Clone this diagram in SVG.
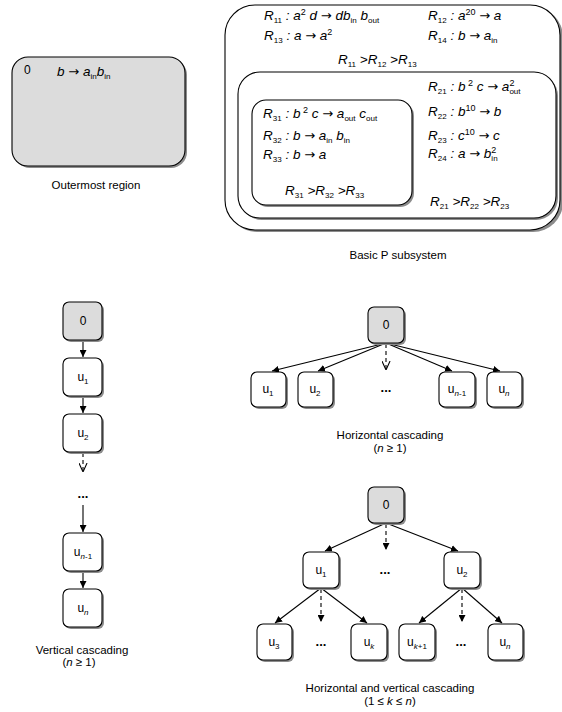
<svg xmlns="http://www.w3.org/2000/svg" width="562" height="712" viewBox="0 0 562 712">
  <style>
    .box { fill: #ffffff; stroke: #000000; stroke-width: 1.1; }
    .env { fill: #dcdcdc; stroke: #000000; stroke-width: 1.1; }
    .shadow { fill: #8c8c8c; stroke: none; }
    .rule { font-family: "Liberation Sans", Arial, sans-serif; font-size: 13.5px; font-style: italic; fill: #000; }
    .sb { font-size: 8px; font-style: normal; }
    .sp { font-size: 9px; font-style: normal; }
    .op { font-family: "DejaVu Sans", sans-serif; font-size: 13px; font-style: normal; }
    .lbl { font-family: "Liberation Sans", Arial, sans-serif; font-size: 12px; fill: #000; text-anchor: middle; }
    .lsb { font-size: 8px; }
    .cap { font-family: "Liberation Sans", Arial, sans-serif; font-size: 11.5px; fill: #000; text-anchor: middle; }
    .dots { font-family: "Liberation Sans", Arial, sans-serif; font-size: 13px; font-weight: bold; fill: #000; text-anchor: middle; }
    .edge { stroke: #000; stroke-width: 1.1; fill: none; marker-end: url(#solid); }
    .dash { stroke: #000; stroke-width: 1.1; fill: none; stroke-dasharray: 4 3; }
  </style>
  <defs>
    <marker id="solid" viewBox="0 0 10 10" refX="10" refY="5" markerWidth="7" markerHeight="7" markerUnits="userSpaceOnUse" orient="auto">
      <path d="M0,0 L10,5 L0,10 z" fill="#000"/>
    </marker>
    <marker id="open" viewBox="0 0 10 10" refX="10" refY="5" markerWidth="9" markerHeight="9" markerUnits="userSpaceOnUse" orient="auto">
      <path d="M0,0.5 L10,5 L0,9.5" fill="none" stroke="#000" stroke-width="1.2"/>
    </marker>
  </defs>

  <!-- outermost region -->
  <g id="outermost">
    <rect class="shadow" x="14" y="59" width="173" height="109" rx="16"/>
    <rect class="env" x="12" y="57" width="173" height="109" rx="16"/>
    <text x="24" y="74" font-family="Liberation Sans, Arial, sans-serif" font-size="12">0</text>
    <text class="rule" x="57" y="76">b <tspan class="op">→</tspan> a<tspan class="sb" dy="3">in</tspan><tspan dy="-3">b</tspan><tspan class="sb" dy="3">in</tspan></text>
    <text class="cap" x="96" y="189">Outermost region</text>
  </g>

  <!-- basic P subsystem: skin membrane -->
  <g id="membrane1">
    <rect class="shadow" x="227" y="7" width="336" height="225" rx="30"/>
    <rect class="box" x="225" y="5" width="335" height="225" rx="30"/>
    <text class="rule" x="264" y="20">R<tspan class="sb" dy="3">11</tspan><tspan dy="-3"> : a</tspan><tspan class="sp" dy="-5">2</tspan><tspan dy="5"> d <tspan class="op">→</tspan> db</tspan><tspan class="sb" dy="3">in</tspan><tspan dy="-3"> b</tspan><tspan class="sb" dy="3">out</tspan></text>
    <text class="rule" x="428" y="20">R<tspan class="sb" dy="3">12</tspan><tspan dy="-3"> : a</tspan><tspan class="sp" dy="-5">20</tspan><tspan dy="5"> <tspan class="op">→</tspan> a</tspan></text>
    <text class="rule" x="264" y="40">R<tspan class="sb" dy="3">13</tspan><tspan dy="-3"> : a <tspan class="op">→</tspan> a</tspan><tspan class="sp" dy="-5">2</tspan></text>
    <text class="rule" x="428" y="40">R<tspan class="sb" dy="3">14</tspan><tspan dy="-3"> : b <tspan class="op">→</tspan> a</tspan><tspan class="sb" dy="3">in</tspan></text>
    <text class="rule" x="338" y="64">R<tspan class="sb" dy="3">11</tspan><tspan dy="-3"> &gt;R</tspan><tspan class="sb" dy="3">12</tspan><tspan dy="-3"> &gt;R</tspan><tspan class="sb" dy="3">13</tspan></text>
  </g>

  <!-- membrane 2 -->
  <g id="membrane2">
    <rect class="shadow" x="240" y="74" width="318" height="146" rx="22"/>
    <rect class="box" x="238" y="72" width="318" height="146" rx="22"/>
    <text class="rule" x="428" y="91">R<tspan class="sb" dy="3">21</tspan><tspan dy="-3"> : b</tspan><tspan class="sp" dy="-5"> 2</tspan><tspan dy="5"> c <tspan class="op">→</tspan> a</tspan><tspan class="sp" dy="-5">2</tspan><tspan class="sb" dx="-5" dy="8">out</tspan></text>
    <text class="rule" x="428" y="116">R<tspan class="sb" dy="3">22</tspan><tspan dy="-3"> : b</tspan><tspan class="sp" dy="-5">10</tspan><tspan dy="5"> <tspan class="op">→</tspan> b</tspan></text>
    <text class="rule" x="428" y="140">R<tspan class="sb" dy="3">23</tspan><tspan dy="-3"> : c</tspan><tspan class="sp" dy="-5">10</tspan><tspan dy="5"> <tspan class="op">→</tspan> c</tspan></text>
    <text class="rule" x="428" y="158">R<tspan class="sb" dy="3">24</tspan><tspan dy="-3"> : a <tspan class="op">→</tspan> b</tspan><tspan class="sp" dy="-5">2</tspan><tspan class="sb" dx="-5" dy="8">in</tspan></text>
    <text class="rule" x="430" y="206">R<tspan class="sb" dy="3">21</tspan><tspan dy="-3"> &gt;R</tspan><tspan class="sb" dy="3">22</tspan><tspan dy="-3"> &gt;R</tspan><tspan class="sb" dy="3">23</tspan></text>
  </g>

  <!-- membrane 3 -->
  <g id="membrane3">
    <rect class="shadow" x="254" y="102" width="160" height="105" rx="14"/>
    <rect class="box" x="252" y="100" width="160" height="105" rx="14"/>
    <text class="rule" x="263" y="118">R<tspan class="sb" dy="3">31</tspan><tspan dy="-3"> : b</tspan><tspan class="sp" dy="-5"> 2</tspan><tspan dy="5"> c <tspan class="op">→</tspan> a</tspan><tspan class="sb" dy="3">out</tspan><tspan dy="-3"> c</tspan><tspan class="sb" dy="3">out</tspan></text>
    <text class="rule" x="263" y="140">R<tspan class="sb" dy="3">32</tspan><tspan dy="-3"> : b <tspan class="op">→</tspan> a</tspan><tspan class="sb" dy="3">in</tspan><tspan dy="-3"> b</tspan><tspan class="sb" dy="3">in</tspan></text>
    <text class="rule" x="263" y="159">R<tspan class="sb" dy="3">33</tspan><tspan dy="-3"> : b <tspan class="op">→</tspan> a</tspan></text>
    <text class="rule" x="285" y="195">R<tspan class="sb" dy="3">31</tspan><tspan dy="-3"> &gt;R</tspan><tspan class="sb" dy="3">32</tspan><tspan dy="-3"> &gt;R</tspan><tspan class="sb" dy="3">33</tspan></text>
  </g>
  <text class="cap" x="398" y="259">Basic P subsystem</text>

  <!-- connectors -->
  <g id="connectors">
    <!-- vertical cascading -->
    <line class="edge" x1="83" y1="340" x2="83" y2="357"/>
    <line class="edge" x1="83" y1="397" x2="83" y2="413"/>
    <line class="dash" x1="83" y1="453" x2="83" y2="472" marker-end="url(#open)"/>
    <line class="edge" x1="83" y1="505" x2="83" y2="532"/>
    <line class="edge" x1="83" y1="572" x2="83" y2="588"/>
    <!-- horizontal cascading -->
    <line class="edge" x1="386" y1="343" x2="272" y2="371"/>
    <line class="edge" x1="386" y1="343" x2="318" y2="371"/>
    <line class="edge" x1="386" y1="343" x2="452" y2="371"/>
    <line class="edge" x1="386" y1="343" x2="500" y2="371"/>
    <line class="dash" x1="386" y1="344" x2="386" y2="370" marker-end="url(#open)"/>
    <!-- horizontal and vertical cascading -->
    <line class="edge" x1="386" y1="523" x2="325" y2="551"/>
    <line class="edge" x1="386" y1="523" x2="458" y2="551"/>
    <line class="dash" x1="386" y1="524" x2="386" y2="550" marker-end="url(#solid)"/>
    <line class="edge" x1="321" y1="588" x2="275" y2="623"/>
    <line class="edge" x1="321" y1="588" x2="367" y2="623"/>
    <line class="dash" x1="321" y1="589" x2="321" y2="622" marker-end="url(#solid)"/>
    <line class="edge" x1="462" y1="588" x2="419" y2="623"/>
    <line class="edge" x1="462" y1="588" x2="502" y2="623"/>
    <line class="dash" x1="462" y1="589" x2="462" y2="622" marker-end="url(#solid)"/>
  </g>

  <!-- vertical cascading nodes -->
  <g id="v0"><rect class="shadow" x="65" y="304" width="39" height="38" rx="6"/><rect class="env" x="63" y="302" width="39" height="38" rx="6"/><text class="lbl" x="83" y="325">0</text></g>
  <g id="v1"><rect class="shadow" x="65" y="360" width="39" height="38" rx="6"/><rect class="box" x="63" y="358" width="39" height="38" rx="6"/><text class="lbl" x="83" y="381">u<tspan class="lsb" dy="3">1</tspan></text></g>
  <g id="v2"><rect class="shadow" x="65" y="416" width="39" height="38" rx="6"/><rect class="box" x="63" y="414" width="39" height="38" rx="6"/><text class="lbl" x="83" y="437">u<tspan class="lsb" dy="3">2</tspan></text></g>
  <text class="dots" x="83" y="498">...</text>
  <g id="vn1"><rect class="shadow" x="65" y="535" width="39" height="38" rx="6"/><rect class="box" x="63" y="533" width="39" height="38" rx="6"/><text class="lbl" x="83" y="556">u<tspan class="lsb" dy="3" font-style="italic">n</tspan><tspan class="lsb">-1</tspan></text></g>
  <g id="vn"><rect class="shadow" x="65" y="591" width="39" height="38" rx="6"/><rect class="box" x="63" y="589" width="39" height="38" rx="6"/><text class="lbl" x="83" y="612">u<tspan class="lsb" dy="3" font-style="italic">n</tspan></text></g>
  <text class="cap" x="82" y="654">Vertical cascading</text>
  <text class="cap" x="79" y="666">(<tspan font-style="italic">n</tspan> ≥ 1)</text>

  <!-- horizontal cascading nodes -->
  <g id="h0"><rect class="shadow" x="370" y="309" width="36" height="36" rx="6"/><rect class="env" x="368" y="307" width="36" height="36" rx="6"/><text class="lbl" x="386" y="329">0</text></g>
  <g id="h1"><rect class="shadow" x="253" y="374" width="35" height="35" rx="6"/><rect class="box" x="251" y="372" width="35" height="35" rx="6"/><text class="lbl" x="268" y="393">u<tspan class="lsb" dy="3">1</tspan></text></g>
  <g id="h2"><rect class="shadow" x="300" y="374" width="35" height="35" rx="6"/><rect class="box" x="298" y="372" width="35" height="35" rx="6"/><text class="lbl" x="315" y="393">u<tspan class="lsb" dy="3">2</tspan></text></g>
  <text class="dots" x="386" y="392">...</text>
  <g id="hn1"><rect class="shadow" x="441" y="374" width="36" height="35" rx="6"/><rect class="box" x="439" y="372" width="36" height="35" rx="6"/><text class="lbl" x="457" y="393">u<tspan class="lsb" dy="3" font-style="italic">n</tspan><tspan class="lsb">-1</tspan></text></g>
  <g id="hn"><rect class="shadow" x="489" y="374" width="35" height="35" rx="6"/><rect class="box" x="487" y="372" width="35" height="35" rx="6"/><text class="lbl" x="504" y="393">u<tspan class="lsb" dy="3" font-style="italic">n</tspan></text></g>
  <text class="cap" x="390" y="439">Horizontal cascading</text>
  <text class="cap" x="390" y="452">(<tspan font-style="italic">n</tspan> ≥ 1)</text>

  <!-- horizontal and vertical cascading nodes -->
  <g id="t0"><rect class="shadow" x="370" y="489" width="36" height="36" rx="6"/><rect class="env" x="368" y="487" width="36" height="36" rx="6"/><text class="lbl" x="386" y="509">0</text></g>
  <g id="t1"><rect class="shadow" x="305" y="554" width="36" height="36" rx="6"/><rect class="box" x="303" y="552" width="36" height="36" rx="6"/><text class="lbl" x="321" y="574">u<tspan class="lsb" dy="3">1</tspan></text></g>
  <text class="dots" x="385" y="574">...</text>
  <g id="t2"><rect class="shadow" x="446" y="554" width="36" height="36" rx="6"/><rect class="box" x="444" y="552" width="36" height="36" rx="6"/><text class="lbl" x="462" y="574">u<tspan class="lsb" dy="3">2</tspan></text></g>
  <g id="t3"><rect class="shadow" x="259" y="626" width="35" height="36" rx="6"/><rect class="box" x="257" y="624" width="35" height="36" rx="6"/><text class="lbl" x="274" y="646">u<tspan class="lsb" dy="3">3</tspan></text></g>
  <text class="dots" x="321" y="646">...</text>
  <g id="tk"><rect class="shadow" x="353" y="626" width="36" height="36" rx="6"/><rect class="box" x="351" y="624" width="36" height="36" rx="6"/><text class="lbl" x="369" y="646">u<tspan class="lsb" dy="3" font-style="italic">k</tspan></text></g>
  <g id="tk1"><rect class="shadow" x="401" y="626" width="36" height="36" rx="6"/><rect class="box" x="399" y="624" width="36" height="36" rx="6"/><text class="lbl" x="417" y="646">u<tspan class="lsb" dy="3" font-style="italic">k</tspan><tspan class="lsb">+1</tspan></text></g>
  <text class="dots" x="461" y="646">...</text>
  <g id="tn"><rect class="shadow" x="490" y="626" width="35" height="36" rx="6"/><rect class="box" x="488" y="624" width="35" height="36" rx="6"/><text class="lbl" x="505" y="646">u<tspan class="lsb" dy="3" font-style="italic">n</tspan></text></g>
  <text class="cap" x="390" y="692">Horizontal and vertical cascading</text>
  <text class="cap" x="390" y="705">(1 ≤ <tspan font-style="italic">k</tspan> ≤ <tspan font-style="italic">n</tspan>)</text>
</svg>
